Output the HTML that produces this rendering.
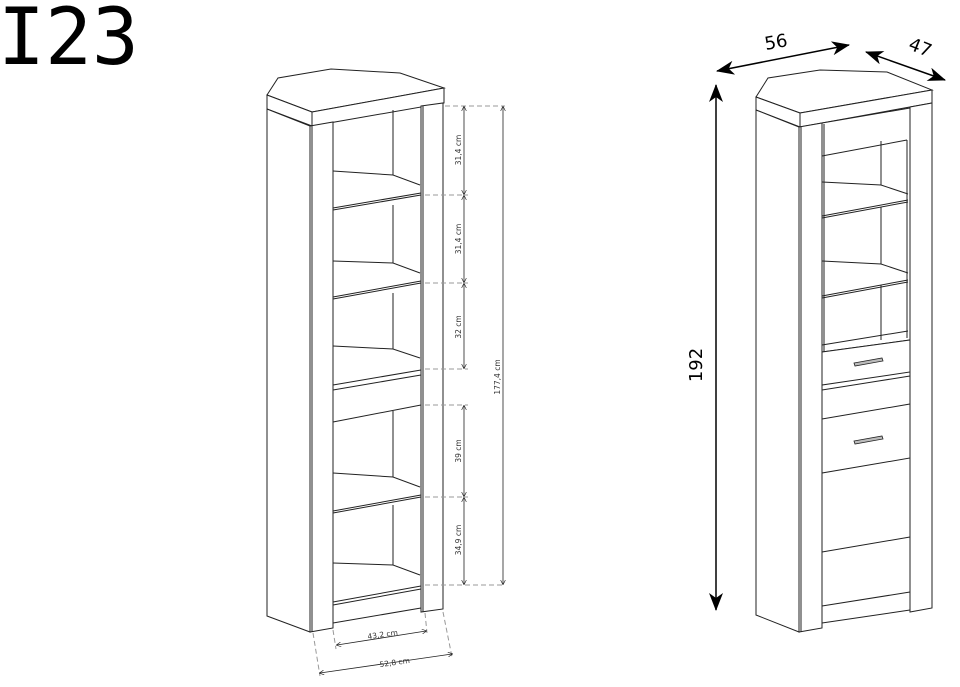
<!DOCTYPE html>
<html><head><style>
html,body{margin:0;padding:0;background:#fff;}
svg{display:block;}
</style></head><body>
<svg width="960" height="687" viewBox="0 0 960 687" xmlns="http://www.w3.org/2000/svg" font-family="DejaVu Sans, sans-serif">
<defs>
<marker id="a" markerWidth="6" markerHeight="6" refX="5" refY="3" orient="auto-start-reverse"><path d="M0,0 L6,3 L0,6" fill="none" stroke="#222" stroke-width="0.8"/></marker>
<marker id="b" markerUnits="userSpaceOnUse" markerWidth="18" markerHeight="14" refX="17" refY="7" orient="auto-start-reverse"><path d="M0,0 L18,7 L0,14 L5,7 Z" fill="#000"/></marker>
</defs>
<text x="-2" y="64" font-family="DejaVu Sans Mono, monospace" font-size="78" fill="#000">I23</text>

<g fill="#fff" stroke="#222" stroke-width="1">
<polygon points="267,95 278,78 331,69 400,73 444,88 312,112"/>
<polygon points="267,95 312,112 312,126 267,109"/>
<polygon points="312,112 444,88 444,103 312,126"/>
<polygon points="267,109 310,126 310,632 267,616"/>
<polygon points="310,126 333,122 333,628 310,632"/>
<polygon points="421,106 443,103 443,609 421,612"/>
<line x1="312" y1="126" x2="312" y2="632"/>
<line x1="423" y1="106" x2="423" y2="612"/>
<line x1="393" y1="110" x2="393" y2="175"/>
<polyline fill="none" points="333,171 393,175 420,185"/>
<line x1="333" y1="210" x2="421" y2="195"/><line x1="333" y1="208" x2="421" y2="193"/>
<line x1="393" y1="205" x2="393" y2="263"/>
<polyline fill="none" points="333,261 393,263 420,273"/>
<line x1="333" y1="299" x2="421" y2="283"/><line x1="333" y1="297" x2="421" y2="281"/>
<line x1="393" y1="293" x2="393" y2="349"/>
<polyline fill="none" points="333,346 393,349 420,358"/>
<line x1="333" y1="385" x2="421" y2="370"/><line x1="333" y1="390" x2="421" y2="375"/>
<line x1="333" y1="422" x2="421" y2="405"/>
<line x1="393" y1="411" x2="393" y2="477"/>
<polyline fill="none" points="333,473 393,477 420,487"/>
<line x1="333" y1="513" x2="421" y2="497"/><line x1="333" y1="511" x2="421" y2="495"/>
<line x1="393" y1="505" x2="393" y2="565"/>
<polyline fill="none" points="333,563 393,565 420,575"/>
<line x1="333" y1="602" x2="421" y2="586"/><line x1="333" y1="605" x2="421" y2="589"/>
<line x1="333" y1="623" x2="421" y2="608"/>
</g>

<g stroke="#999" stroke-width="1" stroke-dasharray="5,3" fill="none">
<line x1="445" y1="106" x2="505" y2="106"/>
<line x1="425" y1="195" x2="468" y2="195"/>
<line x1="425" y1="283" x2="468" y2="283"/>
<line x1="425" y1="369" x2="468" y2="369"/>
<line x1="425" y1="405" x2="468" y2="405"/>
<line x1="425" y1="497" x2="468" y2="497"/>
<line x1="425" y1="585" x2="505" y2="585"/>
<line x1="313" y1="633" x2="320" y2="676"/>
<line x1="333" y1="630" x2="336" y2="649"/>
<line x1="425" y1="613" x2="427" y2="633"/>
<line x1="443" y1="612" x2="452" y2="657"/>
</g>
<g stroke="#222" stroke-width="0.8" fill="none" marker-start="url(#a)" marker-end="url(#a)">
<line x1="464" y1="107" x2="464" y2="194"/>
<line x1="464" y1="196" x2="464" y2="282"/>
<line x1="464" y1="284" x2="464" y2="368"/>
<line x1="464" y1="406" x2="464" y2="496"/>
<line x1="464" y1="498" x2="464" y2="584"/>
<line x1="503" y1="107" x2="503" y2="584"/>
<line x1="337" y1="645" x2="426" y2="631"/>
<line x1="320" y1="673" x2="452" y2="654"/>
</g>
<g font-size="7.5" fill="#333" text-anchor="middle">
<text transform="translate(461,150) rotate(-90)">31,4 cm</text>
<text transform="translate(461,239) rotate(-90)">31,4 cm</text>
<text transform="translate(461,327) rotate(-90)">32 cm</text>
<text transform="translate(461,451) rotate(-90)">39 cm</text>
<text transform="translate(461,540) rotate(-90)">34,9 cm</text>
<text transform="translate(500,377) rotate(-90)">177,4 cm</text>
<text transform="translate(383,637) rotate(-8)">43,2 cm</text>
<text transform="translate(395,665) rotate(-8)">52,8 cm</text>
</g>

<g fill="#fff" stroke="#222" stroke-width="1">
<polygon points="756,97 768,78 820,70 887,72 932,90 800,113"/>
<polygon points="756,97 800,113 800,127 756,110"/>
<polygon points="800,113 932,90 932,103 800,127"/>
<polygon points="756,110 799,127 799,632 756,615"/>
<polygon points="799,127 822,123 822,628 799,632"/>
<polygon points="910,107 932,103 932,608 910,612"/>
<line x1="801" y1="127" x2="801" y2="632"/>
<polygon points="822,123 910,108 910,340 822,352"/>
<line x1="824" y1="124" x2="824" y2="352"/>
<line x1="907" y1="140" x2="907" y2="338"/>
<line x1="822" y1="156" x2="907" y2="140"/>
<line x1="881" y1="141" x2="881" y2="185"/>
<polyline fill="none" points="822,182 881,185 908,194"/>
<line x1="822" y1="218" x2="908" y2="202"/><line x1="822" y1="216" x2="908" y2="200"/>
<line x1="881" y1="207" x2="881" y2="264"/>
<polyline fill="none" points="822,261 881,264 908,273"/>
<line x1="822" y1="298" x2="908" y2="282"/><line x1="822" y1="296" x2="908" y2="280"/>
<line x1="881" y1="285" x2="881" y2="340"/>
<line x1="822" y1="345" x2="908" y2="331"/>
<polygon points="822,352 910,340 910,372 822,385"/>
<line x1="822" y1="390" x2="910" y2="376"/>
<polygon points="822,419 910,404 910,458 822,473"/>
<line x1="822" y1="552" x2="910" y2="537"/>
<line x1="822" y1="606" x2="910" y2="592"/>
<line x1="822" y1="623" x2="910" y2="610"/>
</g>
<g fill="#bbb" stroke="#222" stroke-width="0.8">
<path d="M854,363 L882,358 L883,361 L855,366 Z"/>
<path d="M854,441 L882,436 L883,439 L855,444 Z"/>
</g>

<g stroke="#000" stroke-width="1.5" marker-start="url(#b)" marker-end="url(#b)">
<line x1="717" y1="71" x2="849" y2="45"/>
<line x1="866" y1="52" x2="945" y2="80"/>
<line x1="716" y1="85" x2="716" y2="610"/>
</g>
<g fill="#000" font-size="18" text-anchor="middle">
<text transform="translate(777,48) rotate(-10)">56</text>
<text transform="translate(918,53) rotate(22)">47</text>
<text transform="translate(702,365) rotate(-90)">192</text>
</g>
</svg>
</body></html>
